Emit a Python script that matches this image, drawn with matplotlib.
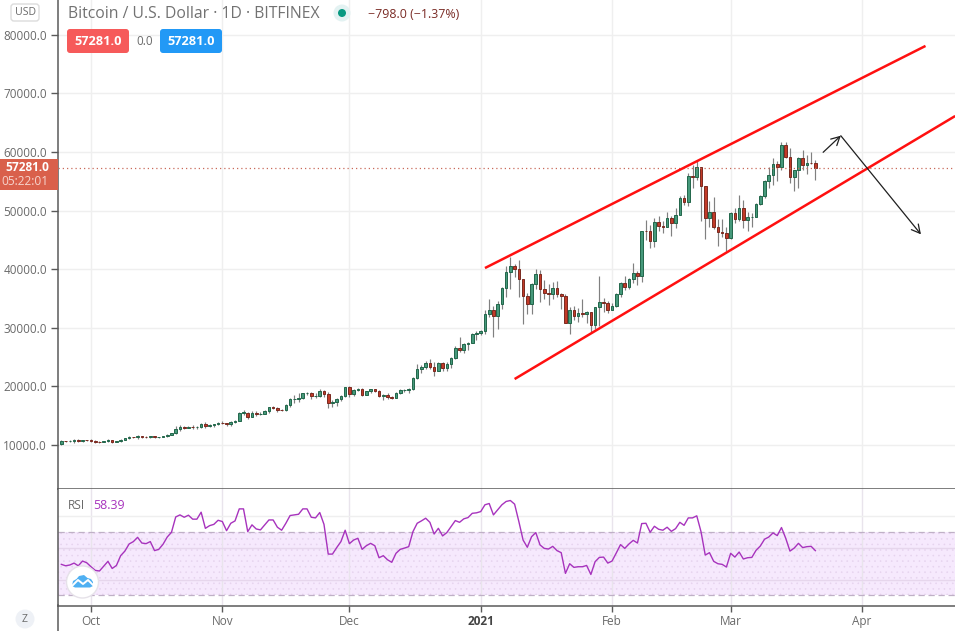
import numpy as np
import pandas as pd
import matplotlib
matplotlib.use("Agg")
import matplotlib.pyplot as plt
import matplotlib.dates as mdates
from matplotlib.patches import FancyBboxPatch, Circle, Polygon, Rectangle

plt.rcParams['font.family'] = ['Open Sans', 'DejaVu Sans']
plt.rcParams['hatch.linewidth'] = 0.4

FIRST_DAY = "2020-09-24"

opens = [10170, 10740, 10690, 10730, 10780, 10710, 10840,
    10780, 10620, 10570, 10510, 10670, 10790, 10500, 10670, 10920, 11140, 11400, 11370, 11560, 11400, 11360, 11500,
    11340, 11360, 11540, 11760, 12040, 12800, 13020, 12950, 13110, 13000, 13060, 13650, 13250, 13480, 13620,
    13800, 13750, 13520, 13980, 14160, 15500, 15530, 14730, 15530, 15290, 15310, 15730, 16410, 16400, 15960,
    15930, 16760, 17780, 17780, 18000, 18800, 18900, 18350, 18400, 19200, 18750, 17200, 17300, 17840, 18350,
    19830, 18750, 19370, 19500, 18580, 19150, 19490, 19260, 18350, 18580, 18240, 18000, 18860, 19370, 19400, 19490,
    21420, 22900, 23360, 23980, 23360, 22670, 23980, 23190, 23800, 24780, 26540, 26200, 27230, 27340, 28880,
    29050, 29440, 32340, 32970, 32040, 34000, 36780, 39460, 40480, 40000, 38250, 35480, 34110, 37400, 39100, 36670,
    35990, 35800, 36730, 35800, 35480, 30870, 33120, 32060, 32450, 32290, 32630, 30400, 33480, 34340, 34300,
    33100, 33650, 35700, 37700, 37000, 38300, 39280, 38900, 46500, 46480, 44860, 47990, 47420, 47150,
    48680, 47940, 49190, 52100, 51520, 55850, 55800, 57380, 54150, 48820, 49720, 47140, 46280, 46250,
    45260, 49640, 48560, 50440, 48340, 48900, 48960, 51120, 52430, 55050, 56080, 57950, 57380, 61200,
    59090, 55680, 56930, 58970, 57720, 58120, 58079]

closes = [10740, 10690, 10730, 10780, 10710, 10840, 10780,
    10620, 10570, 10510, 10670, 10790, 10500, 10670, 10920, 11140, 11400, 11370, 11560, 11400, 11360, 11500, 11340,
    11360, 11540, 11760, 12040, 12800, 13020, 12950, 13110, 13000, 13060, 13650, 13250, 13480, 13620, 13800,
    13750, 13520, 13980, 14160, 15500, 15530, 14730, 15530, 15290, 15310, 15730, 16410, 16400, 15960, 15930,
    16760, 17780, 17780, 18000, 18800, 18900, 18350, 18400, 19200, 18750, 17200, 17300, 17840, 18350, 19830,
    18750, 19370, 19500, 18580, 19150, 19490, 19260, 18350, 18580, 18240, 18000, 18860, 19370, 19400, 19490, 21420,
    22900, 23360, 23980, 23360, 22670, 23980, 23190, 23800, 24780, 26540, 26200, 27230, 27340, 28880, 29050,
    29440, 32340, 32970, 32040, 34000, 36780, 39460, 40480, 40000, 38250, 35480, 34110, 37400, 39100, 36670, 35990,
    35800, 36730, 35800, 35480, 30870, 33120, 32060, 32450, 32290, 32630, 30400, 33480, 34340, 34300, 33100,
    33650, 35700, 37700, 37000, 38300, 39280, 38900, 46500, 46480, 44860, 47990, 47420, 47150, 48680,
    47940, 49190, 52100, 51520, 55850, 55800, 57380, 54150, 48820, 49720, 47140, 46280, 46250, 45260,
    49640, 48560, 50440, 48340, 48900, 48960, 51120, 52430, 55050, 56080, 57950, 57380, 61200, 59090,
    55680, 56930, 58970, 57720, 58120, 58079, 57281]

highs = [10855, 10740, 10855, 10970, 11000, 10910, 10910,
    10950, 10800, 10650, 10760, 10950, 10830, 10730, 11000, 11200, 11480, 11450, 11770, 11600, 11560, 11620, 11620,
    11420, 11620, 11830, 12080, 13220, 13350, 13170, 13200, 13350, 13260, 13840, 13850, 13620, 13650, 13980,
    14060, 13820, 14050, 14280, 15700, 15900, 15660, 15800, 15850, 15560, 15960, 16480, 16640, 16500, 16100,
    16930, 17950, 18500, 18830, 18930, 19080, 19000, 18850, 19520, 19400, 19040, 17700, 18080, 18600, 19940,
    20100, 19540, 19750, 19650, 19260, 19600, 19430, 19430, 18750, 18810, 18350, 18970, 19540, 19540, 19720, 21540,
    23820, 23640, 24260, 24600, 24200, 24150, 24150, 24150, 25040, 26880, 28420, 27450, 27600, 29190, 29510,
    29600, 33000, 34900, 33650, 34570, 36950, 40540, 42130, 40825, 41560, 38260, 35990, 37700, 39970, 39860, 38150,
    37470, 37750, 37980, 35870, 35700, 33600, 33700, 33300, 35000, 32850, 32750, 33600, 38830, 35090, 34500,
    34170, 35870, 37870, 38830, 38550, 41050, 39700, 46570, 48390, 47540, 48680, 49080, 48220, 49800,
    49080, 50500, 52550, 52660, 56360, 57780, 58460, 57500, 54200, 51580, 52300, 48620, 48620, 47190,
    49760, 50440, 52720, 51860, 49700, 49590, 51300, 52660, 55160, 57440, 58980, 58520, 61760, 61760,
    60680, 56980, 59090, 60400, 59550, 60000, 58700]

lows = [10060, 10450, 10510, 10400, 10460, 10570, 10630,
    10500, 10340, 10360, 10500, 10530, 10400, 10530, 10520, 10800, 10970, 11150, 11030, 11200, 11250, 11260, 11220,
    11280, 11330, 11450, 11700, 11880, 12450, 12750, 12880, 12700, 12800, 12980, 12950, 13100, 13150, 13500,
    13580, 13200, 13300, 13700, 14050, 15200, 14400, 14750, 15000, 15100, 15280, 15500, 16190, 15700, 15770,
    15730, 16500, 17200, 17380, 17770, 18500, 17780, 17950, 18150, 18240, 16380, 16550, 16700, 17500, 18180,
    18180, 18400, 19200, 18430, 18570, 18860, 19030, 18180, 17720, 17860, 17780, 18070, 18700, 19030, 18920, 19380,
    21250, 22310, 22940, 23000, 21830, 22600, 22670, 22670, 23170, 24650, 25870, 25700, 26250, 27350, 27950,
    28700, 28900, 31900, 28480, 29840, 33200, 35200, 36560, 38660, 35300, 30640, 32400, 32400, 36600, 34400, 34850,
    33880, 35000, 35200, 33140, 30800, 28930, 31320, 30980, 31900, 30800, 29330, 29730, 30300, 32700, 32460,
    32970, 33480, 35300, 36440, 36600, 37700, 37300, 37800, 44960, 43670, 43840, 46570, 46120, 47140,
    45660, 47080, 49190, 50900, 50720, 53900, 55220, 48280, 45150, 47200, 46850, 44010, 45490, 43160,
    45150, 47880, 48170, 47020, 46460, 47200, 48850, 51000, 52150, 53850, 54420, 55050, 56900, 59000,
    54700, 53290, 53850, 56980, 56300, 57900, 55280]

rsi = [49.7, 48.8, 49.3, 50.5, 48.8, 51.8, 50.7,
    48.2, 45.9, 45.5, 48.6, 51.6, 47.1, 49.0, 55.2, 58.1, 62.6, 64.1, 66.8, 63.2, 62.8, 64.1, 58.4, 59.2, 62.4, 67.0,
    70.0, 79.7, 81.0, 79.5, 80.8, 78.3, 78.3, 82.7, 72.5, 74.2, 75.0, 77.6,
    76.8, 71.0, 75.7, 77.2, 84.8, 84.8, 70.4, 74.7, 72.1, 71.5, 74.7, 77.8, 77.8, 73.2, 71.3, 75.7, 80.6, 81.0, 81.4,
    84.8, 84.8, 79.5, 79.1, 82.5, 75.0, 56.2, 56.2, 60.3, 64.1, 71.3,
    62.8, 65.1, 66.2, 59.2, 61.5, 63.0, 61.5, 53.9, 55.2, 52.6, 51.0, 56.7, 59.2, 60.0, 60.9, 70.4, 75.7, 77.2, 78.9,
    76.3, 68.9, 72.5, 67.7, 69.8, 73.6, 77.4, 76.3, 78.5, 79.3, 82.0, 82.3,
    83.1, 87.4, 88.2, 81.0, 84.2, 87.4, 89.5, 90.1, 87.8, 76.8, 65.1, 60.5, 67.2, 69.8, 62.0, 59.8, 59.4, 61.1, 58.4,
    57.1, 44.0, 50.1, 47.8, 48.2, 48.2, 49.0, 43.3, 51.4, 54.1, 54.3, 50.5,
    51.8, 56.9, 62.2, 59.8, 62.6, 64.9, 63.2, 75.5, 75.7, 70.0, 73.8, 71.9, 71.3, 73.2, 70.6, 72.3, 76.3, 74.4, 79.1,
    79.1, 80.4, 70.4, 55.6, 57.1, 51.6, 50.1, 49.7, 48.0,
    56.7, 54.3, 57.5, 53.1, 53.9, 54.1, 58.6, 61.3, 65.6, 67.0, 69.6, 67.9, 73.0, 66.2, 58.1, 60.0, 63.0, 60.3, 60.9,
    61.1, 58.39]

channel_upper_dates = ["2021-01-02 00:00", "2021-04-16 00:00"]
channel_upper_prices = [40200, 78100]
channel_lower_dates = ["2021-01-09 00:00", "2021-04-23 00:00"]
channel_lower_prices = [21260, 66140]
forecast_dates = ["2021-03-22 20:00", "2021-03-27 00:00", "2021-04-14 22:00"]
forecast_prices = [59950, 62780, 45950]

price_ticks = [10000, 20000, 30000, 40000, 50000, 60000, 70000, 80000]
month_ticks = ["2020-10-01", "2020-11-01", "2020-12-01", "2021-01-01", "2021-02-01", "2021-03-01", "2021-04-01"]
month_labels = ["Oct", "Nov", "Dec", "2021", "Feb", "Mar", "Apr"]
rsi_grid = [40, 60, 80]
last_price = 57281

GREEN_F, GREEN_E = "#46997b", "#22664a"
RED_F, RED_E = "#c23a28", "#7a2a20"
WICK = "#808080"
GRID = "#efefef"
AXC = "#5a5a5a"
TXT = "#6a6a6a"
PURPLE = "#a733bd"

W, H = 955, 631
fig = plt.figure(figsize=(W / 100, H / 100), dpi=100, facecolor="white")
ax = fig.add_axes([58 / W, (H - 488.5) / H, (W - 58) / W, 488.5 / H])
ax2 = fig.add_axes([58 / W, (H - 605.5) / H, (W - 58) / W, 117 / H], sharex=ax)

dates = pd.date_range(FIRST_DAY, periods=len(closes), freq="D")
x = mdates.date2num(dates)
o, h, l, c = map(np.asarray, (opens, highs, lows, closes))
up = c >= o

def num(seq):
    return mdates.date2num(pd.to_datetime(seq))

origin = mdates.date2num(pd.Timestamp("2020-10-01"))
ax.set_xlim(origin - 7.79, origin + 203.96)
ax.set_ylim(2580, 85939)
ax2.set_ylim(23.67, 97.7)

month_x = num(month_ticks)
for m in month_x:
    ax.axvline(m, color=GRID, lw=1.0, zorder=0)
for p in price_ticks:
    ax.axhline(p, color=GRID, lw=1.0, zorder=0)

ax.vlines(x, l, h, color=WICK, lw=0.85, zorder=2)
ax.bar(x[up], np.maximum(c - o, 60)[up], bottom=o[up], width=0.62, color=GREEN_F,
       edgecolor=GREEN_E, linewidth=0.7, zorder=3)
ax.bar(x[~up], np.maximum(o - c, 60)[~up], bottom=c[~up], width=0.62, color=RED_F,
       edgecolor=RED_E, linewidth=0.7, zorder=3)

ax.axhline(last_price, color="#c96a5a", lw=0.9, ls=(0, (1, 2.4)), zorder=4)

ax.plot(num(channel_upper_dates), channel_upper_prices, color="#ff1010", lw=1.8, zorder=5,
        solid_capstyle="butt")
ax.plot(num(channel_lower_dates), channel_lower_prices, color="#ff1010", lw=1.8, zorder=5,
        solid_capstyle="butt")

fx = num(forecast_dates)
for i in (0, 1):
    ax.annotate("", xy=(fx[i + 1], forecast_prices[i + 1]), xytext=(fx[i], forecast_prices[i]),
                arrowprops=dict(arrowstyle="->,head_length=0.6,head_width=0.32", color="#1f1f1f", lw=0.9,
                                shrinkA=0, shrinkB=0), zorder=6)

ax.set_yticks(price_ticks)
ax.set_yticklabels([f"{p:.1f}" for p in price_ticks], fontsize=8.5, color=TXT)
ax.tick_params(axis="y", length=5, width=1, color=AXC, pad=3)
ax.tick_params(axis="x", which="both", length=0, labelbottom=False)

# RSI pane
band_x = [origin - 7.79, origin + 203.96]
ax2.fill_between(band_x, 30, 70, facecolor="#f6e9fd", edgecolor="none", zorder=0.5)
ax2.fill_between(band_x, 30, 70, facecolor="none", edgecolor="#e6d3ee",
                 hatch="...", linewidth=0, zorder=0.6)
for m in month_x:
    ax2.axvline(m, color="#e9e4ec", lw=1.0, zorder=0.7)
for g in rsi_grid:
    ax2.axhline(g, color="#e6d6ec" if g < 70 else GRID, lw=1.0, zorder=0.8)
for g in (30, 70):
    ax2.axhline(g, color="#bfb0c6", lw=0.9, ls=(0, (5, 3)), zorder=0.9)
ax2.plot(x, rsi, color=PURPLE, lw=1.0, zorder=3)
ax2.set_yticks([])
ax2.set_xticks(month_x)
ax2.set_xticklabels(month_labels, fontsize=8.5, color=TXT)
ax2.get_xticklabels()[3].set_fontweight("bold")
ax2.get_xticklabels()[3].set_color("#444444")
ax2.tick_params(axis="x", length=4, width=1, color=AXC, pad=3)

for a in (ax, ax2):
    for s in ("top", "right"):
        a.spines[s].set_visible(False)
    a.spines["left"].set_color(AXC)
    a.spines["left"].set_linewidth(1.1)
    a.spines["bottom"].set_color(AXC)
    a.spines["bottom"].set_linewidth(1.1)

# Chart furniture on a pixel-based overlay
ov = fig.add_axes([0, 0, 1, 1], facecolor="none", zorder=10)
ov.set_xlim(0, W)
ov.set_ylim(H, 0)
ov.axis("off")

ov.plot([58, 58], [605, 631], color=AXC, lw=1.1)

def badge(x0, y0, w, h, fc, ec="none", r=3, lw=1):
    ov.add_patch(FancyBboxPatch((x0 + r, y0 + r), w - 2 * r, h - 2 * r,
                                boxstyle=f"round,pad={r},rounding_size={r}", fc=fc, ec=ec, lw=lw,
                                mutation_aspect=1))

badge(11, 4, 28, 17, "white", "#dcdcdc")
ov.text(25, 12.5, "USD", fontsize=7.6, color=TXT, ha="center", va="center")

ov.text(68, 13.5, "Bitcoin / U.S. Dollar · 1D · BITFINEX", fontsize=11.3, color="#727272", ha="left", va="center")
ov.add_patch(Circle((342, 13), 8.5, fc="#e3f2f2", ec="none"))
ov.add_patch(Circle((342, 13), 4, fc="#089981", ec="none"))
ov.text(368, 14.5, "−798.0 (−1.37%)", fontsize=8.9, color="#7a2b25", ha="left", va="center")

badge(67, 29, 62, 24, "#f65a5a")
ov.text(98, 41.5, "57281.0", fontsize=9.2, color="white", fontweight="bold", ha="center", va="center")
ov.text(144.5, 41.5, "0.0", fontsize=8.4, color=TXT, ha="center", va="center")
badge(160, 29, 62, 24, "#2299f6")
ov.text(191, 41.5, "57281.0", fontsize=9.2, color="white", fontweight="bold", ha="center", va="center")

ov.add_patch(Rectangle((0, 159), 58, 31, fc="#d9604b", ec="none"))
ov.text(49, 167.5, "57281.0", fontsize=8.6, color="white", fontweight="bold", ha="right", va="center")
ov.text(48, 181.5, "05:22:01", fontsize=8.6, color="#f6d4cd", ha="right", va="center")

ov.text(68, 505.5, "RSI", fontsize=8.6, color=TXT, ha="left", va="center")
ov.text(93.5, 505.5, f"{rsi[-1]:.2f}", fontsize=8.9, color=PURPLE, ha="left", va="center")

ov.add_patch(Circle((25, 619), 9.5, fc="#eef1f6", ec="none"))
ov.text(25, 619, "Z", fontsize=7.5, color=TXT, ha="center", va="center")

ov.add_patch(Circle((82.5, 582), 16, fc="white", ec="#e6e2e9", lw=1))
ov.add_patch(Polygon([(72, 586), (73, 581), (76.5, 579), (79, 576), (84, 575), (87.5, 578), (91, 579),
                      (93, 582), (93, 586), (90, 587.5), (75, 587.5)], closed=True, fc="#4fb0f2", ec="none"))
ov.plot([72, 78, 83, 88, 93], [586, 580, 584, 580, 585], color="white", lw=1.4)

fig.savefig("out.png", dpi=100, facecolor="white")
